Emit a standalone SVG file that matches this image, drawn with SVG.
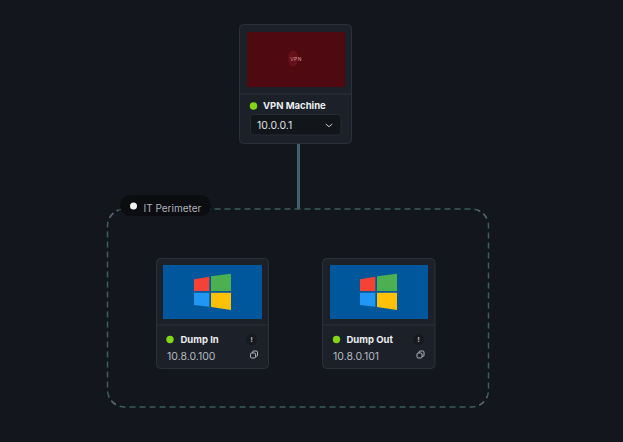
<svg xmlns="http://www.w3.org/2000/svg" width="623" height="442" viewBox="0 0 623 442">
<style>
text{font-family:Inter,"Liberation Sans",sans-serif}
.card{fill:#1c2129;stroke:#2b313a;stroke-width:1}
.sep{stroke:#2b313a;stroke-width:1}
.dot{fill:#84d615}
.name{font-size:9.5px;font-weight:700;fill:#eceef0}
.ip{font-size:10.5px;fill:#b4b9c0}
.badge{fill:#161a20}
.bang{font-size:6.500px;font-weight:700;fill:#c4c8cd;text-anchor:middle}
.copy{fill:none;stroke:#b4b9c0;stroke-width:1}
.frame{fill:none;stroke-width:1.500;stroke-dasharray:6 4}
</style>
<defs>
<clipPath id="corners">
<rect x="100" y="200" width="18" height="18"/>
<rect x="478" y="200" width="18" height="18"/>
<rect x="100" y="397" width="18" height="18"/>
<rect x="478" y="397" width="18" height="18"/>
</clipPath>
<g id="win">
<polygon fill="#f44336" points="194,279.3 209.3,276.7 209.3,291 194,291"/>
<polygon fill="#4caf50" points="211,276.3 231,273.7 231,291 211,291"/>
<polygon fill="#2196f3" points="194,292.7 209.3,292.7 209.3,306.7 194,305"/>
<polygon fill="#ffc107" points="211,292.7 231,292.7 231,310 211,307"/>
</g>
<g id="cp" class="copy">
<rect x="250.500" y="353" width="5" height="5" rx="1.200"/>
<path d="M252.500,353V352.200a1.200,1.200 0 0 1 1.200-1.200h2.600a1.200,1.200 0 0 1 1.200,1.200v3a1.200,1.200 0 0 1-1.200,1.200h-.8"/>
</g>
</defs>
<rect width="623" height="442" fill="#13161c"/>
<g id="connectors">
<line x1="298.500" y1="144" x2="298.500" y2="209" stroke="#41606e" stroke-width="3"/>
</g>
<g id="it-perimeter">
<rect class="frame" x="107.500" y="209" width="381" height="198" rx="17" stroke="#3b5f5a"/>
<rect class="frame" x="107.500" y="209" width="381" height="198" rx="17" stroke="#5a6364" clip-path="url(#corners)"/>
<rect x="120" y="195" width="91" height="21" rx="10.500" fill="#0b0d10"/>
<circle cx="133.500" cy="206" r="3.500" fill="#f2f2f2"/>
<text x="143.500" y="211.500" font-size="10px" fill="#aeb3ba">IT Perimeter</text>
</g>
<g id="vpn-machine">
<rect class="card" x="239.500" y="24.500" width="112" height="119" rx="4"/>
<rect x="247" y="32" width="98" height="55" fill="#4f0a11"/>
<ellipse cx="293" cy="58.500" rx="5" ry="8" fill="#66101a"/>
<text x="296" y="61" font-size="5px" letter-spacing=".4" fill="#d49a9e" text-anchor="middle">VPN</text>
<line class="sep" x1="240" y1="94" x2="351" y2="94"/>
<circle class="dot" cx="253.500" cy="106" r="3.700"/>
<text class="name" x="263" y="109">VPN Machine</text>
<rect x="250.500" y="114.500" width="90.500" height="20.500" rx="3" fill="#12151a" stroke="#262b33"/>
<text x="257" y="129" font-size="10.500px" fill="#dfe2e5">10.0.0.1</text>
<path d="M325.700,124l3.300,2.700l3.300,-2.700" fill="none" stroke="#c4c8cd" stroke-width="1"/>
</g>
<g id="dump-in">
<rect class="card" x="156.500" y="258.500" width="112" height="110" rx="4"/>
<rect x="163" y="265" width="99" height="54" fill="#01579b"/>
<use href="#win"/>
<line class="sep" x1="157" y1="325" x2="268" y2="325"/>
<circle class="dot" cx="170" cy="339.500" r="3.700"/>
<text class="name" x="180.500" y="343">Dump In</text>
<circle class="badge" cx="251.500" cy="339.500" r="5.500"/>
<text class="bang" x="251.500" y="342">!</text>
<text class="ip" x="167" y="360">10.8.0.100</text>
<use href="#cp"/>
</g>
<g id="dump-out">
<rect class="card" x="322.500" y="258.500" width="112.500" height="110" rx="4"/>
<rect x="330" y="265" width="98" height="54" fill="#01579b"/>
<use href="#win" x="166"/>
<line class="sep" x1="323" y1="325" x2="434.500" y2="325"/>
<circle class="dot" cx="336.500" cy="339.500" r="3.700"/>
<text class="name" x="346.500" y="343">Dump Out</text>
<circle class="badge" cx="418.500" cy="339.500" r="5.500"/>
<text class="bang" x="418.500" y="342">!</text>
<text class="ip" x="333" y="360">10.8.0.101</text>
<use href="#cp" x="166.500"/>
</g>
</svg>
